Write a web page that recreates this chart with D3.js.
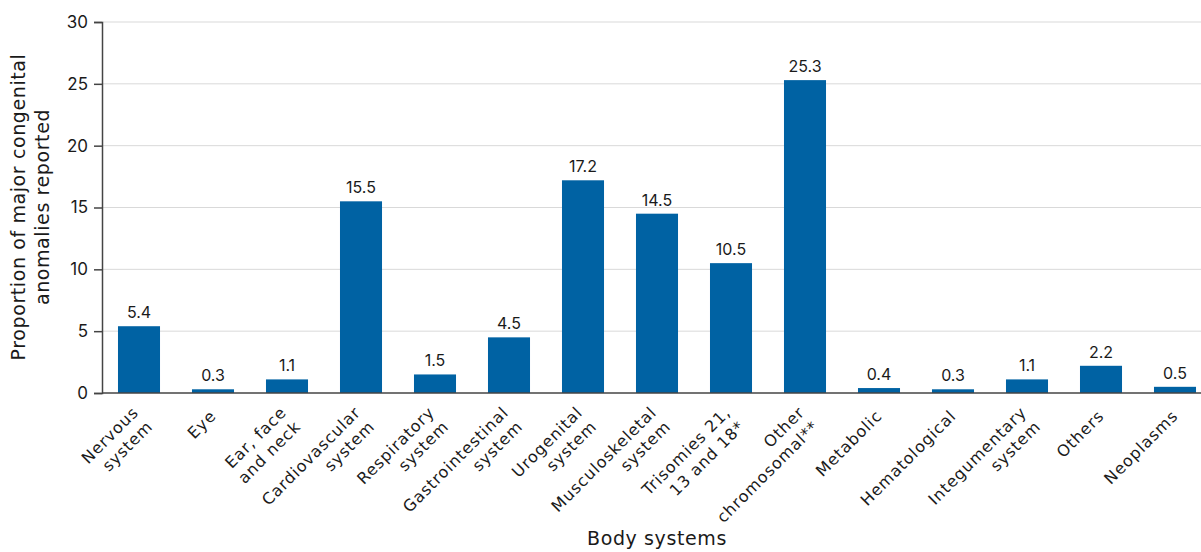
<!DOCTYPE html>
<html>
<head>
<meta charset="utf-8">
<script src="https://cdn.jsdelivr.net/npm/d3@7"></script>
<style>
  html, body { margin: 0; padding: 0; background: #ffffff; }
  svg { display: block; }
</style>
</head>
<body>
<svg id="chart" width="1201" height="552"></svg>
<script>
// Body-system categories ("\n" marks a line break in the axis label)
const categories = [
  "Nervous\nsystem", "Eye", "Ear, face\nand neck", "Cardiovascular\nsystem",
  "Respiratory\nsystem", "Gastrointestinal\nsystem", "Urogenital\nsystem",
  "Musculoskeletal\nsystem", "Trisomies 21,\n13 and 18*", "Other\nchromosomal**",
  "Metabolic", "Hematological", "Integumentary\nsystem", "Others", "Neoplasms"
];
// Proportion of major congenital anomalies reported (%)
const values = [5.4, 0.3, 1.1, 15.5, 1.5, 4.5, 17.2, 14.5, 10.5, 25.3, 0.4, 0.3, 1.1, 2.2, 0.5];
const yTicks = [0, 5, 10, 15, 20, 25, 30];
const yTitleLines = ["Proportion of major congenital", "anomalies reported"];
const xTitle = "Body systems";

const svg = d3.select("#chart");
const plot = { left: 102, right: 1212, top: 22, bottom: 393 };
const barColor = "#0062a3";
const textColor = "#1a1a1a";
const labelFont = "'DejaVu Sans', sans-serif";
const numFont = "Inter, 'Liberation Sans', sans-serif";

const x = d3.scaleBand()
  .domain(d3.range(categories.length))
  .range([plot.left, plot.right])
  .paddingInner(0.432)
  .paddingOuter(0.216);

const y = d3.scaleLinear().domain([0, 30]).range([plot.bottom, plot.top]);

// horizontal gridlines
svg.append("g")
  .selectAll("line")
  .data(yTicks.filter(d => d > 0))
  .join("line")
  .attr("x1", plot.left).attr("x2", 1201)
  .attr("y1", d => y(d)).attr("y2", d => y(d))
  .attr("stroke", "#d9d9d9").attr("stroke-width", 1);

// bars
svg.append("g")
  .selectAll("rect")
  .data(values)
  .join("rect")
  .attr("x", (d, i) => x(i))
  .attr("width", x.bandwidth())
  .attr("y", d => y(d))
  .attr("height", d => y(0) - y(d))
  .attr("fill", barColor);

// value labels
svg.append("g")
  .selectAll("text")
  .data(values)
  .join("text")
  .attr("x", (d, i) => x(i) + x.bandwidth() / 2)
  .attr("y", d => y(d) - 8)
  .attr("text-anchor", "middle")
  .attr("font-family", numFont)
  .attr("font-size", 16)
  .attr("fill", textColor)
  .text(d => d.toFixed(1));

// y axis
const yAxis = svg.append("g")
  .attr("transform", `translate(${plot.left},0)`)
  .call(d3.axisLeft(y).tickValues(yTicks).tickSize(8).tickPadding(6).tickFormat(d3.format("d")));
yAxis.select(".domain").attr("stroke", "#444").attr("stroke-width", 1.5);
yAxis.selectAll(".tick line").attr("stroke", "#444").attr("stroke-width", 1.5);
yAxis.selectAll(".tick text")
  .attr("font-family", numFont).attr("font-size", 17).attr("fill", textColor);

// x axis baseline
const xAxis = svg.append("g")
  .attr("transform", `translate(0,${plot.bottom})`)
  .call(d3.axisBottom(x).tickSize(0).tickFormat(""));
xAxis.select(".domain").attr("stroke", "#444").attr("stroke-width", 1.5)
  .attr("d", `M${plot.left},0H1201`);

// rotated category labels, right-aligned to the tick
const lab = svg.append("g")
  .selectAll("g")
  .data(categories)
  .join("g")
  .attr("transform", (d, i) => `translate(${x(i) + x.bandwidth() / 2 + 4},${plot.bottom + 24}) rotate(-45)`);
lab.each(function(d) {
  const lines = d.split("\n");
  const t = d3.select(this).append("text")
    .attr("text-anchor", "end")
    .attr("font-family", labelFont)
    .attr("font-size", 16)
    .attr("letter-spacing", "0.9px")
    .attr("fill", textColor);
  lines.forEach((ln, k) => {
    const dy = lines.length === 1 ? 0 : (k === 0 ? -5 : 15);
    t.append("tspan").attr("x", 0).attr("y", dy).text(ln);
  });
});

// axis titles
const yt = svg.append("text")
  .attr("transform", `translate(25,207) rotate(-90)`)
  .attr("text-anchor", "middle")
  .attr("font-family", labelFont)
  .attr("font-size", 19)
  .attr("letter-spacing", "0.6px")
  .attr("fill", textColor);
yTitleLines.forEach((ln, k) => {
  yt.append("tspan").attr("x", 0).attr("y", k * 24).text(ln);
});

svg.append("text")
  .attr("x", 657).attr("y", 545)
  .attr("text-anchor", "middle")
  .attr("font-family", labelFont)
  .attr("font-size", 19)
  .attr("letter-spacing", "0.6px")
  .attr("fill", textColor)
  .text(xTitle);
</script>
</body>
</html>
